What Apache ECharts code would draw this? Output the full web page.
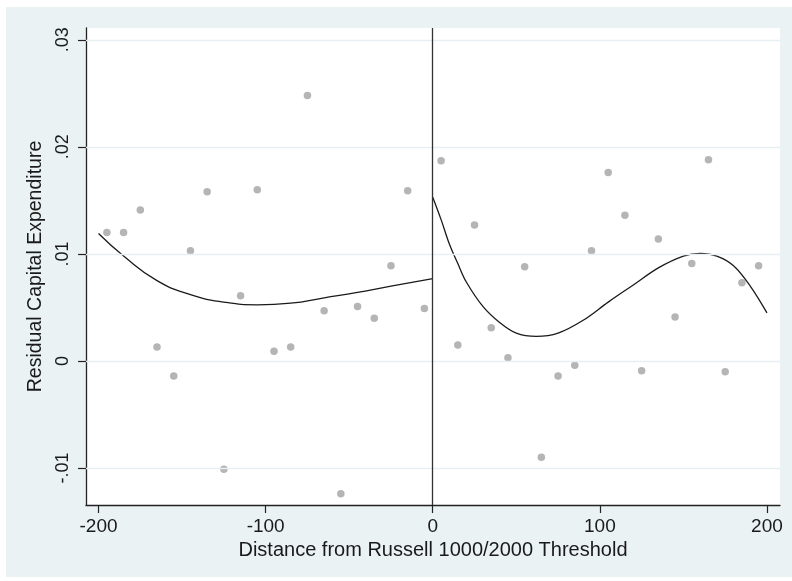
<!DOCTYPE html>
<html>
<head>
<meta charset="utf-8">
<script src="https://cdn.jsdelivr.net/npm/echarts@6/dist/echarts.min.js"></script>
<style>
  body { margin: 0; background: #fff; }
  #bg { position: absolute; left: 6px; top: 7px; width: 786px; height: 570px; background: #eaf2f3; }
  #main { position: absolute; left: 0; top: 0; width: 792px; height: 581px; }
</style>
</head>
<body>
<div id="bg"></div>
<div id="main"></div>
<script>
// bins below threshold
var leftX = [-195, -185, -175, -165, -155, -145, -135, -125, -115, -105, -95, -85, -75, -65, -55, -45, -35, -25, -15, -5];
var leftY = [0.0120, 0.0120, 0.0141, 0.0013, -0.0014, 0.0103, 0.0158, -0.0101, 0.0061, 0.0160, 0.0009, 0.0013, 0.0248, 0.0047, -0.0124, 0.0051, 0.0040, 0.0089, 0.0159, 0.0049];
// bins above threshold
var rightX = [5, 15, 25, 35, 45, 55, 65, 75, 85, 95, 105, 115, 125, 135, 145, 155, 165, 175, 185, 195];
var rightY = [0.0187, 0.0015, 0.0127, 0.0031, 0.0003, 0.0088, -0.0090, -0.0014, -0.0004, 0.0103, 0.0176, 0.0136, -0.0009, 0.0114, 0.0041, 0.0091, 0.0188, -0.0010, 0.0073, 0.0089];
// fitted curves
var leftFitX = [-200, -185, -165, -145, -125, -105, -85, -65, -45, -25, 0];
var leftFitY = [0.0119, 0.0098, 0.0075, 0.0062, 0.0055, 0.00525, 0.0054, 0.0059, 0.0064, 0.0070, 0.0077];
var rightFitX = [0, 5, 10, 15, 20, 30, 40, 50, 62, 75, 90, 105, 120, 135, 150, 160, 170, 180, 190, 200];
var rightFitY = [0.0153, 0.0132, 0.0109, 0.0091, 0.0074, 0.0051, 0.0036, 0.0026, 0.0023, 0.0026, 0.0038, 0.0055, 0.0071, 0.0087, 0.0098, 0.01005, 0.0098, 0.0089, 0.0070, 0.0045];
// ticks
var xTicks = [-200, -100, 0, 100, 200];
var yTicks = [-0.01, 0, 0.01, 0.02, 0.03];

function zip(xs, ys) {
  return xs.map(function (x, i) { return [x, ys[i]]; });
}

var chart = echarts.init(document.getElementById('main'));
var font = 'Liberation Sans, Arial, sans-serif';

var option = {
  animation: false,
  grid: {
    left: 86, right: 12, top: 28, bottom: 76,
    show: true, backgroundColor: '#fff', borderWidth: 0
  },
  xAxis: {
    type: 'value',
    min: -207.5, max: 207.8,
    name: 'Distance from Russell 1000/2000 Threshold',
    nameLocation: 'middle',
    nameGap: 31,
    nameTextStyle: { fontSize: 20, color: '#1a1a1a', fontFamily: font },
    axisLine: { onZero: false, lineStyle: { color: '#222', width: 1.3 } },
    axisTick: { length: 8, customValues: xTicks, lineStyle: { color: '#222', width: 1.2 } },
    axisLabel: { customValues: xTicks, margin: 12, fontSize: 19, color: '#1a1a1a', fontFamily: font },
    splitLine: { show: false }
  },
  yAxis: {
    type: 'value',
    min: -0.01345, max: 0.0311,
    name: 'Residual Capital Expenditure',
    nameLocation: 'middle',
    nameGap: 30,
    nameRotate: 90,
    nameTextStyle: { fontSize: 19.5, color: '#1a1a1a', fontFamily: font },
    axisLine: { show: true, onZero: false, lineStyle: { color: '#222', width: 1.3 } },
    axisTick: { show: true, length: 8, customValues: yTicks, lineStyle: { color: '#222', width: 1.2 } },
    axisLabel: {
      customValues: yTicks, rotate: 90, margin: 14, fontSize: 18, color: '#1a1a1a', fontFamily: font,
      formatter: function (v) {
        if (v === 0) return '0';
        return String(+v.toFixed(2)).replace('0.', '.');
      }
    },
    splitLine: { show: false }
  },
  series: [
    {
      // gridlines and the threshold line
      type: 'line', data: [], z: 1, silent: true,
      markLine: {
        symbol: 'none', silent: true, label: { show: false },
        data: yTicks.map(function (v) {
          return { yAxis: v, lineStyle: { color: '#e6eff1', width: 1.3, type: 'solid' } };
        }).concat([{ xAxis: 0, lineStyle: { color: '#333', width: 1.3, type: 'solid' } }])
      }
    },
    {
      type: 'scatter', data: zip(leftX, leftY), symbolSize: 7.5, z: 3,
      itemStyle: { color: '#a3a3a3' }
    },
    {
      type: 'scatter', data: zip(rightX, rightY), symbolSize: 7.5, z: 3,
      itemStyle: { color: '#a3a3a3' }
    },
    {
      type: 'line', data: zip(leftFitX, leftFitY), smooth: true, showSymbol: false, z: 4,
      lineStyle: { color: '#1a1a1a', width: 1.3 }
    },
    {
      type: 'line', data: zip(rightFitX, rightFitY), smooth: 0.35, showSymbol: false, z: 4,
      lineStyle: { color: '#1a1a1a', width: 1.3 }
    }
  ]
};
chart.setOption(option);
</script>
</body>
</html>
